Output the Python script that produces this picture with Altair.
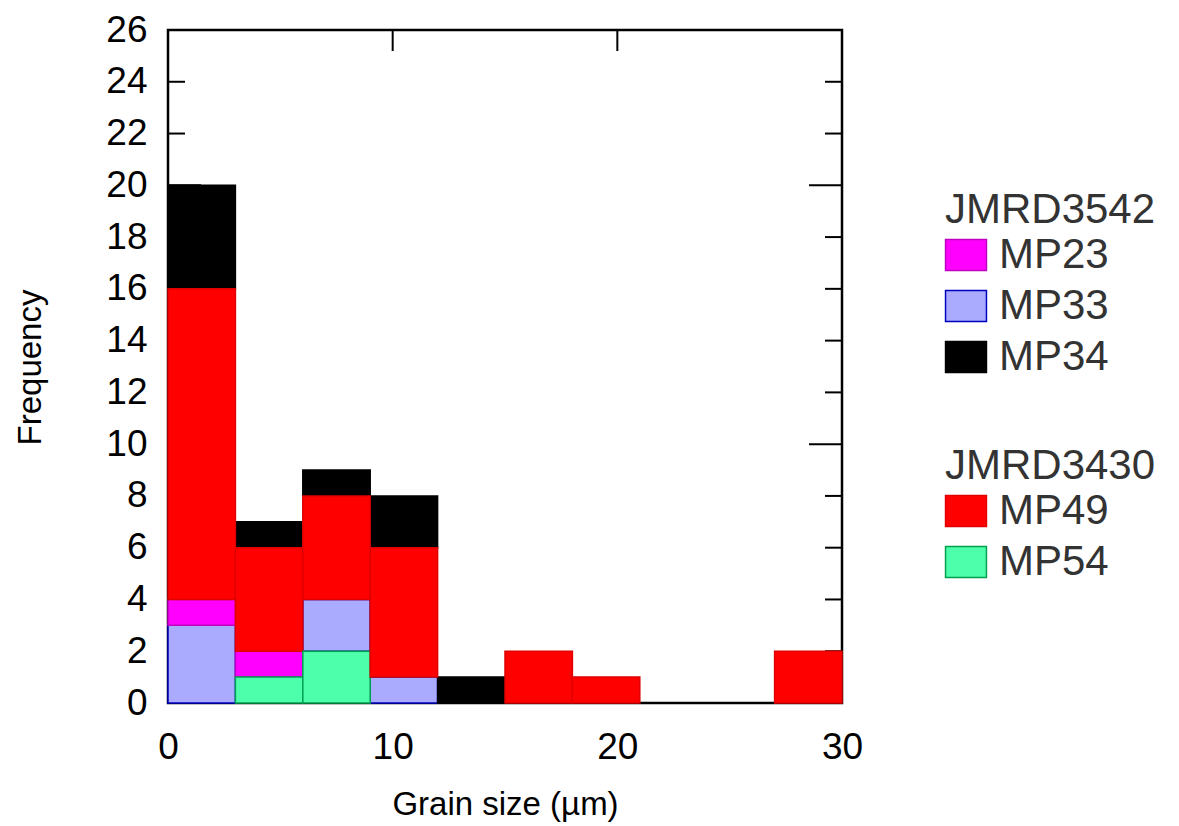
import altair as alt
import pandas as pd

# Histogram bins (grain size, µm) and counts per sample
bin_start = [0, 3, 6, 9, 12, 15, 18, 21, 24, 27]
bin_width = 3

mp54 = [0, 1, 2, 0, 0, 0, 0, 0, 0, 0]
mp33 = [3, 0, 2, 1, 0, 0, 0, 0, 0, 0]
mp23 = [1, 1, 0, 0, 0, 0, 0, 0, 0, 0]
mp49 = [12, 4, 4, 5, 0, 2, 1, 0, 0, 2]
mp34 = [4, 1, 1, 2, 1, 0, 0, 0, 0, 0]

# Bottom-to-top stacking order
stack_order = ["MP54", "MP33", "MP23", "MP49", "MP34"]
counts = {"MP54": mp54, "MP33": mp33, "MP23": mp23, "MP49": mp49, "MP34": mp34}

group_a = ["MP23", "MP33", "MP34"]   # JMRD3542
group_b = ["MP49", "MP54"]           # JMRD3430

fill_colors = {"MP23": "#ff00ff", "MP33": "#aaaaff", "MP34": "#000000",
               "MP49": "#ff0000", "MP54": "#4dffaa"}
edge_colors = {"MP23": "#c000c0", "MP33": "#0000c0", "MP34": "#000000",
               "MP49": "#e00000", "MP54": "#00a050"}

# Axis tick values
x_tick_labels = [0, 10, 20, 30]
y_tick_labels = list(range(0, 27, 2))
minor_y_ticks = [2, 4, 6, 8, 12, 14, 16, 18, 22, 24]
major_y_ticks = [10, 20]
major_x_ticks = [10, 20]

rows = []
for i, x0 in enumerate(bin_start):
    base = 0
    for s in stack_order:
        v = counts[s][i]
        if v > 0:
            rows.append({"x0": x0, "x1": x0 + bin_width, "y0": base,
                         "y1": base + v, "sample": s, "edge": s})
        base += v
bars = pd.DataFrame(rows)

W, H = 674, 673
FONT = "Liberation Sans"

x_scale = alt.Scale(domain=[0, 30], nice=False, zero=False)
y_scale = alt.Scale(domain=[0, 26], nice=False)

x_axis = alt.Axis(values=x_tick_labels, ticks=False, domain=False, grid=False,
                  labelFontSize=37, labelPadding=26, labelColor="black",
                  labelFont=FONT, labelFlush=False, labelOverlap=False,
                  title="Grain size (µm)", titleFont=FONT,
                  titleFontSize=33, titleFontWeight="normal", titleColor="black",
                  titleX=W / 2, titleY=111, titleBaseline="alphabetic",
                  titleAlign="center")
y_axis = alt.Axis(values=y_tick_labels, ticks=False, domain=False, grid=False,
                  labelFontSize=37, labelPadding=21, labelColor="black",
                  labelFont=FONT, labelFlush=False, labelOverlap=False,
                  title="Frequency", titleFont=FONT,
                  titleFontSize=33, titleFontWeight="normal", titleColor="black",
                  titleX=-138, titleY=337, titleAngle=270,
                  titleBaseline="middle", titleAlign="center")

# Inward tick marks on all four sides of the frame
minor_df = pd.DataFrame({"v": minor_y_ticks})
major_df = pd.DataFrame({"v": major_y_ticks})
xmaj_df = pd.DataFrame({"v": major_x_ticks})

tick_style = dict(color="black", strokeWidth=2)
left_minor = alt.Chart(minor_df).mark_rule(**tick_style).encode(
    y=alt.Y("v:Q", scale=y_scale, axis=y_axis), x=alt.value(0), x2=alt.value(17))
left_major = alt.Chart(major_df).mark_rule(**tick_style).encode(
    y=alt.Y("v:Q", scale=y_scale), x=alt.value(0), x2=alt.value(33))
right_minor = alt.Chart(minor_df).mark_rule(**tick_style).encode(
    y=alt.Y("v:Q", scale=y_scale), x=alt.value(W - 17), x2=alt.value(W))
right_major = alt.Chart(major_df).mark_rule(**tick_style).encode(
    y=alt.Y("v:Q", scale=y_scale), x=alt.value(W - 33), x2=alt.value(W))
top_major = alt.Chart(xmaj_df).mark_rule(**tick_style).encode(
    x=alt.X("v:Q", scale=x_scale, axis=x_axis), y=alt.value(0), y2=alt.value(21))
bottom_major = alt.Chart(xmaj_df).mark_rule(**tick_style).encode(
    x=alt.X("v:Q", scale=x_scale), y=alt.value(H - 21), y2=alt.value(H))


def legend_for(title, ly):
    return alt.Legend(
        title=title, orient="none", legendX=777, legendY=ly,
        titleFont=FONT, titleFontSize=42, titleFontWeight="normal",
        titleColor="#333333", titlePadding=2, titleBaseline="top",
        titleLimit=400, labelLimit=300,
        labelFont=FONT, labelFontSize=42, labelColor="#333333",
        labelOffset=12, rowPadding=9, padding=0,
        symbolType="M-1.32,-1H1.32V1H-1.32Z", symbolSize=961,
        symbolStrokeColor="#555555", symbolStrokeWidth=1.5,
        symbolOpacity=1)


def bar_layer(samples, title, ly):
    data = bars[bars["sample"].isin(samples)]
    return alt.Chart(data).mark_rect(strokeWidth=1.5, opacity=1).encode(
        x=alt.X("x0:Q", scale=x_scale),
        x2="x1:Q",
        y=alt.Y("y0:Q", scale=y_scale),
        y2="y1:Q",
        color=alt.Color("sample:N",
                        scale=alt.Scale(domain=samples,
                                        range=[fill_colors[s] for s in samples]),
                        legend=legend_for(title, ly)),
        stroke=alt.Stroke("edge:N",
                          scale=alt.Scale(domain=samples,
                                          range=[edge_colors[s] for s in samples]),
                          legend=None),
    )


layer_a = bar_layer(group_a, "JMRD3542", 160)
layer_b = bar_layer(group_b, "JMRD3430", 416)

chart = alt.layer(
    left_minor, left_major, right_minor, right_major, top_major, bottom_major,
    layer_a, layer_b,
).resolve_scale(
    color="independent", stroke="independent"
).properties(
    width=W, height=H,
    autosize=alt.AutoSizeParams(type="none"),
    padding={"left": 168, "top": 30, "right": 337, "bottom": 123},
    background="white",
).configure_view(
    stroke="black", strokeWidth=2.5
).configure_legend(
    symbolStrokeColor="#555555"
)

chart.save("out.html", embed_options={"renderer": "svg", "actions": False})
